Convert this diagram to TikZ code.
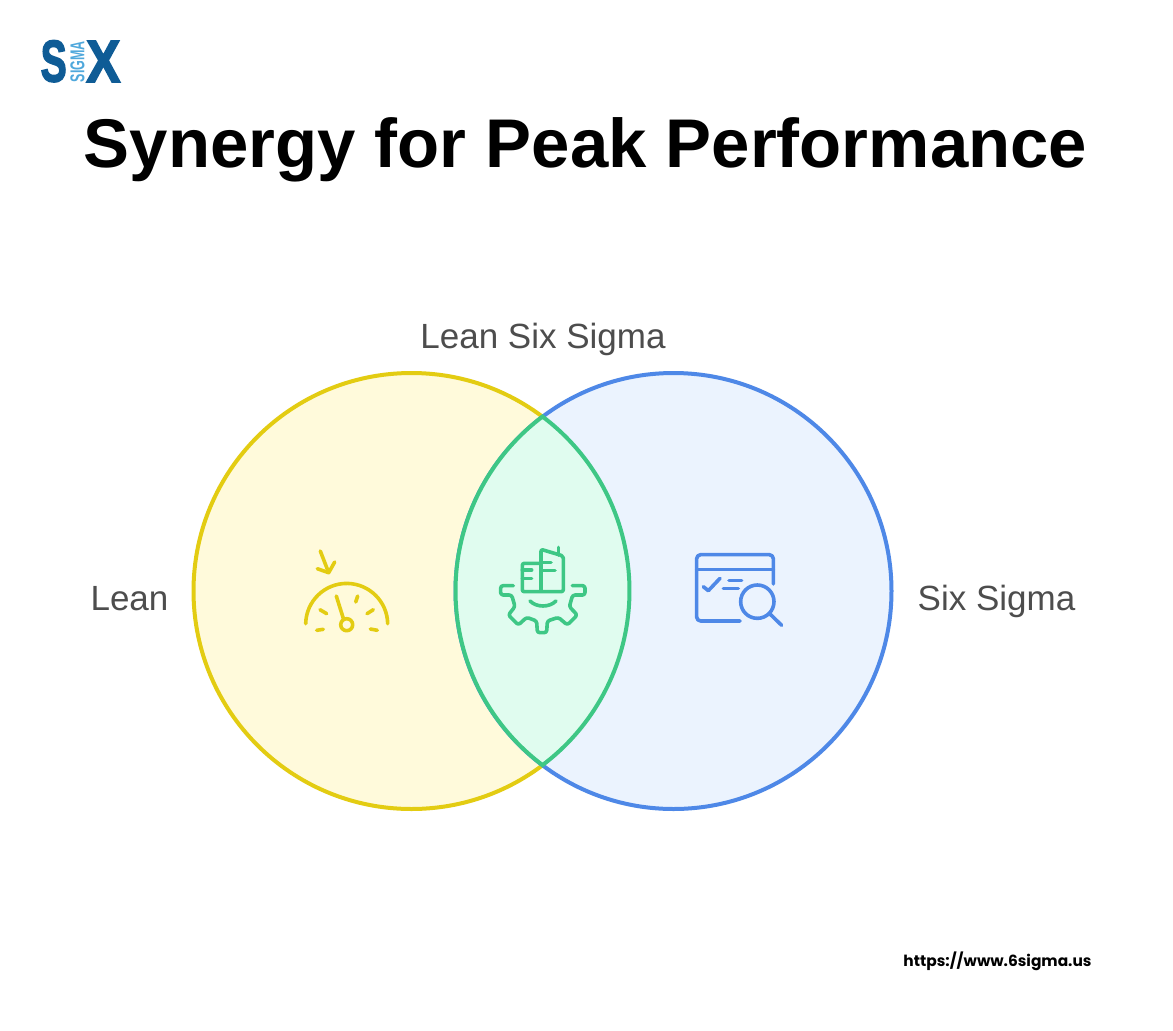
\documentclass[tikz,border=0pt]{standalone}
\usepackage{fontspec}
\setmainfont{Liberation Sans}
\newfontfamily\urlfont{Poppins}
\newfontfamily\logofont[FakeBold=3]{Liberation Sans Bold}
\definecolor{yfill}{HTML}{FFFADB}
\definecolor{ystroke}{HTML}{E3CC12}
\definecolor{bfill}{HTML}{EBF3FE}
\definecolor{bstroke}{HTML}{4E88E7}
\definecolor{gfill}{HTML}{E0FCEF}
\definecolor{gstroke}{HTML}{3EC785}
\definecolor{labelgray}{HTML}{4D4D4D}
\definecolor{logodark}{HTML}{0F5C96}
\definecolor{logolight}{HTML}{4FA8DC}
\tikzset{
  venn/.style={circle,line width=4pt,minimum size=436pt,inner sep=0pt},
  lbl/.style={text=labelgray,inner sep=0pt,anchor=base,font=\fontsize{35}{40}\selectfont},
  icon/.style={line width=3.6pt,line cap=round,line join=round,fill=none},
}
\begin{document}
\begin{tikzpicture}[x=1pt,y=-1pt]
\useasboundingbox (0,0) rectangle (1173,1031);
\fill[white] (0,0) rectangle (1173,1031);
% logo
\node[inner sep=0pt,text=logodark] (logoS) at (53.7,61.2) {\resizebox{26pt}{41pt}{\logofont S}};
\node[inner sep=0pt,text=logodark] (logoX) at (103.3,61.5) {\resizebox{34pt}{41pt}{\logofont X}};
\node[inner sep=0pt,text=logolight,rotate=90] (logoM) at (77.5,61.5) {\resizebox{41pt}{14pt}{\bfseries SIGMA}};
% title
\node[inner sep=0pt] (title) at (585.5,150) {\resizebox{1003pt}{!}{\bfseries Synergy for Peak Performance}};
% venn
\node[venn,draw=ystroke,fill=yfill] (lean) at (411.5,591) {};
\node[venn,draw=bstroke,fill=bfill] (six) at (673.5,591) {};
\coordinate (lensTop) at (542.5,416.6);
\filldraw[line width=4pt,draw=gstroke,fill=gfill]
  (lensTop) arc[start angle=-53.06,end angle=53.06,radius=218]
  arc[start angle=126.94,end angle=233.06,radius=218] -- cycle;
% labels
\node[lbl] (both) at (543,348) {Lean Six Sigma};
\node[lbl] (leanL) at (129.5,610) {Lean};
\node[lbl] (sixL) at (996.5,610) {Six Sigma};
\node[inner sep=0pt,font=\urlfont\fontsize{15.4}{20}\selectfont\bfseries] (url) at (997.5,961) {https://www.6sigma.us};
% gauge icon
\begin{scope}[icon,draw=ystroke]
\draw (305.7,623.7) arc[start angle=181,end angle=359,radius=41];
\draw (336.3,596) -- (343.3,618.3);
\draw (346.7,624.7) circle[radius=6];
\draw (320,609.7) -- (326.7,613.7);
\draw (355.7,602) -- (357.7,596);
\draw (367,613.7) -- (373.3,609.7);
\draw (316.7,630.3) -- (323.3,629.3);
\draw (370.3,629) -- (377.3,630.3);
\draw (320.3,551) -- (328.7,572.7);
\draw (317.3,568.7) -- (328.7,572.7) -- (334.7,562);
\end{scope}
% gear and buildings icon
\begin{scope}[icon,draw=gstroke,shift={(490,535)},x=0.3333pt,y=-0.3333pt]
\draw[rounded corners=2.5pt] (70,152) -- (32,152) -- (32,180) -- (65,180) -- (75,215) -- (55,240) -- (85,270) -- (110,247) -- (140,258) -- (142,293) -- (170,293) -- (172,258) -- (205,247) -- (232,270) -- (262,240) -- (238,215) -- (248,180) -- (285,180) -- (285,152) -- (247,152);
\draw (120,198) .. controls (140,218) and (178,218) .. (198,198);
\draw[rounded corners=2pt] (150,85) -- (97,85) -- (97,170) -- (220,170) -- (220,63) -- (153,43) -- (153,170);
\draw (205,37) -- (205,60);
\draw (97,105) -- (125,105);
\draw (97,130) -- (125,130);
\draw (153,83) -- (183,83);
\draw (153,107) -- (195,107);
\end{scope}
% window and magnifier icon
\begin{scope}[icon,draw=bstroke,shift={(685,540)},x=0.3333pt,y=-0.3333pt]
\draw[rounded corners=4pt] (265,132) -- (265,44) -- (35,44) -- (35,243) -- (165,243);
\draw (35,88) -- (265,88);
\draw (55,140) -- (70,152) -- (105,115);
\draw (132,122) -- (170,122);
\draw (115,145) -- (160,145);
\draw (217,185) circle[radius=50];
\draw (255,222) -- (290,256);
\end{scope}
\end{tikzpicture}
\end{document}
